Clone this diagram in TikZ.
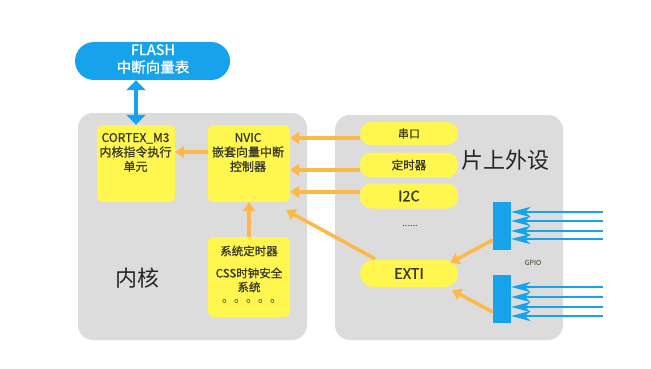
\documentclass[tikz,border=0pt]{standalone}
\usepackage{fontspec}
\setmainfont{Noto Sans CJK SC}
\newfontfamily\medfont{Noto Sans CJK SC}[FakeBold=1]
\usetikzlibrary{arrows.meta}
\definecolor{flashblue}{HTML}{16A3EC}
\definecolor{boxyellow}{HTML}{FFF650}
\definecolor{arrorange}{HTML}{FDB84A}
\definecolor{panelgray}{HTML}{DCDCDC}
\definecolor{inktext}{HTML}{3A3A2A}
\tikzset{
  panel/.style={fill=panelgray, draw=none, rounded corners=15pt, inner sep=0pt},
  ybox/.style={fill=boxyellow, draw=none, rounded corners=6pt, inner sep=0pt},
  pill/.style={fill=boxyellow, draw=none, rounded corners=11pt, inner sep=0pt, minimum width=98pt},
  txt/.style={text=inktext, align=center, inner sep=0pt, font=\fontsize{12}{14.5}\selectfont\medfont},
  bigtxt/.style={text=black!85, inner sep=0pt, font=\fontsize{22}{24}\selectfont},
  oarrow/.style={draw=arrorange, line width=3.5pt, -{Triangle[length=9pt,width=12pt]}},
  barrow/.style={draw=flashblue, line width=1.8pt, -{Stealth[length=19pt,width=10pt,inset=5pt]}},
  gpiobar/.style={fill=flashblue, draw=none, inner sep=0pt, minimum width=18pt, minimum height=48pt},
}
\begin{document}
\begin{tikzpicture}[x=1pt,y=-1pt]
\useasboundingbox (0,0) rectangle (651,369);
\fill[white] (0,0) rectangle (651,369);

% panels
\node[panel, minimum width=229pt, minimum height=227pt] (core) at (192.5,226.5) {};
\node[panel, minimum width=228pt, minimum height=225pt] (periph) at (449,227.5) {};

% flash
\node[fill=flashblue, draw=none, rounded corners=19pt, inner sep=0pt,
      minimum width=155pt, minimum height=38pt] (flash) at (152.5,61) {};
\node[text=white, align=center, inner sep=0pt, font=\fontsize{14.5}{17.5}\selectfont\medfont] (flashtxt) at (153,59) {FLASH\\中断向量表};

% core boxes
\node[ybox, minimum width=78pt, minimum height=77pt] (cortex) at (136,163.5) {};
\node[txt] (cortextxt) at (135.5,152.5) {CORTEX\_M3\\内核指令执行\\单元};
\node[ybox, minimum width=82pt, minimum height=77pt] (nvic) at (249,163.5) {};
\node[txt] (nvictxt) at (248,152.5) {NVIC\\嵌套向量中断\\控制器};
\node[ybox, minimum width=82pt, minimum height=80pt] (systim) at (249,277) {};
\node[txt, font=\fontsize{11.5}{14}\selectfont\medfont] (st1) at (249,251) {系统定时器};
\node[txt, font=\fontsize{11.5}{14}\selectfont\medfont] (st2) at (249,280) {CSS时钟安全\\系统};
\node[txt, font=\fontsize{12}{12}\selectfont] (st3) at (252,301) {。。。。。};
\node[bigtxt] (coretxt) at (137,278) {内核};

% peripherals
\node[pill, minimum height=23pt] (uart) at (409,133.5) {};
\node[txt, font=\fontsize{11}{12}\selectfont\medfont] (uarttxt) at (409,133.5) {串口};
\node[pill, minimum height=25pt] (tim) at (409,165) {};
\node[txt, font=\fontsize{11.5}{12}\selectfont\medfont] (timtxt) at (409,165) {定时器};
\node[pill, minimum height=25pt] (i2c) at (409,196) {};
\node[txt, font=\fontsize{14.5}{16}\selectfont\medfont] (i2ctxt) at (409,196) {I2C};
\node[txt, font=\fontsize{9}{10}\selectfont] (dots) at (410,226) {......};
\node[pill, minimum height=27pt, rounded corners=13pt] (exti) at (409,273.5) {};
\node[txt, font=\fontsize{14.5}{16}\selectfont\medfont] (extitxt) at (409,273.5) {EXTI};
\node[bigtxt] (periphtxt) at (505,160) {片上外设};

% GPIO
\node[gpiobar] (gpio1) at (502,226) {};
\node[gpiobar] (gpio2) at (502,299) {};
\node[text=inktext, inner sep=0pt, font=\fontsize{7}{8}\selectfont] (gpiotxt) at (533,263) {GPIO};
\foreach \yy/\nn in {212/a,221/b,231/c,239/d} {
  \coordinate (gin\nn) at (603,\yy);
  \draw[barrow] (gin\nn) -- (gin\nn -| gpio1.east);
}
\foreach \yy/\nn in {287/a,297/b,307/c,316/d} {
  \coordinate (hin\nn) at (603,\yy);
  \draw[barrow] (hin\nn) -- (hin\nn -| gpio2.east);
}

% flash <-> cortex
\draw[draw=flashblue, line width=4.5pt, {Triangle[length=10pt,width=19pt]}-{Triangle[length=10pt,width=19pt]}]
  (cortex.north |- flash.south) -- (cortex.north);

% orange arrows
\draw[oarrow] ([yshift=11.5pt]nvic.west) -- ([yshift=11.5pt]cortex.east);
\draw[oarrow] ([yshift=-4.5pt]uart.west) -- ([yshift=25.5pt]nvic.east);
\draw[oarrow] ([yshift=-5pt]tim.west) -- ([yshift=-6.5pt]nvic.east);
\draw[oarrow] ([yshift=4pt]i2c.west) -- ([yshift=-28.5pt]nvic.east);
\draw[oarrow] ([xshift=-34pt,yshift=1pt]exti.north) -- ([xshift=-4pt,yshift=-8pt]nvic.south east);
\draw[oarrow] (systim.north) -- (nvic.south);
\draw[oarrow] ([yshift=-14pt]gpio1.west) -- ([xshift=-8pt,yshift=-3pt]exti.north east);
\draw[oarrow] ([yshift=-13pt]gpio2.west) -- ([xshift=-6pt,yshift=-3pt]exti.south east);
\end{tikzpicture}
\end{document}
